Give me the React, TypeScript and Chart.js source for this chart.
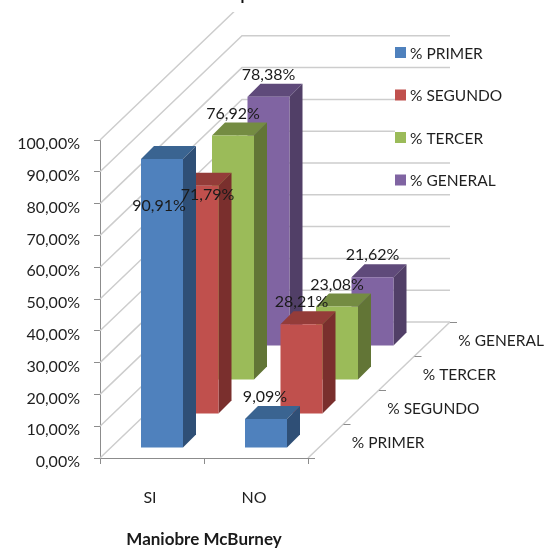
import React, { useEffect, useRef } from "react";
import { Chart, registerables } from "chart.js";

Chart.register(...registerables);

const categories = ["SI", "NO"];
const seriesNames = ["% PRIMER", "% SEGUNDO", "% TERCER", "% GENERAL"];
const primerValues = [90.91, 9.09];
const segundoValues = [71.79, 28.21];
const tercerValues = [76.92, 23.08];
const generalValues = [78.38, 21.62];
const axisTitle = "Maniobre McBurney";
const clippedTitle = "p";

const frontColors = ["#4F81BD", "#C0504D", "#9BBB59", "#8064A2"];
const topColors = ["#3A6491", "#943C39", "#748C42", "#5F4A7A"];
const sideColors = ["#2F4F76", "#7A2F2D", "#627536", "#513F67"];

const FONT = "Lato, 'Open Sans', sans-serif";
const TEXT = "#1f1f1f";
const WALL = "#cdcdcd";
const AXIS = "#8c8c8c";

// Oblique projection of the depth axis
const SLOT_DX = 35.5;
const SLOT_DY = 34;
const BAR_INSET = 10;
const BAR_DEPTH = 13;

// Hand-placed value labels in the first category: [series][category] -> dx, dy from the default spot
const labelNudge = [
  [[-3, 69], [-1, 0]],
  [[10, 31], [0, 0]],
  [[0, 0], [0, 0]],
  [[0, 0], [0, 0]],
];

const formatPct = (v: number) => v.toFixed(2).replace(".", ",") + "%";

const poly = (ctx: CanvasRenderingContext2D, pts: number[][], fill: string) => {
  ctx.beginPath();
  pts.forEach(([x, y], i) => (i ? ctx.lineTo(x, y) : ctx.moveTo(x, y)));
  ctx.closePath();
  ctx.fillStyle = fill;
  ctx.fill();
};

const barFront = (el: any, i: number) => {
  const dx = BAR_INSET + SLOT_DX * i;
  const dy = BAR_INSET + SLOT_DY * i;
  return {
    l: el.x - el.width / 2 + dx,
    r: el.x + el.width / 2 + dx,
    t: el.y - dy,
    b: el.base - dy,
  };
};

const box3d = {
  id: "box3d",
  beforeDatasetsDraw(chart: any) {
    const { ctx, chartArea: a, scales } = chart;
    const depth = seriesNames.length;
    const wallDx = SLOT_DX * depth;
    const wallDy = SLOT_DY * depth;
    ctx.save();
    ctx.lineWidth = 1.5;
    // walls: a diagonal up the side, then across the back
    ctx.strokeStyle = WALL;
    scales.y.ticks.forEach((t: any) => {
      const y = scales.y.getPixelForValue(t.value);
      ctx.beginPath();
      ctx.moveTo(a.left, y);
      ctx.lineTo(a.left + wallDx, y - wallDy);
      ctx.lineTo(a.right + wallDx, y - wallDy);
      ctx.stroke();
    });
    // chart title band sits over the top of the walls
    ctx.fillStyle = "#fff";
    ctx.fillRect(0, 0, chart.width, 12);
    ctx.fillStyle = "#111";
    ctx.font = "bold 16px " + FONT;
    ctx.textAlign = "center";
    ctx.textBaseline = "alphabetic";
    ctx.fillText(clippedTitle, a.left + wallDx + 3, 0);
    // depth axis on the floor edge
    ctx.strokeStyle = WALL;
    ctx.beginPath();
    ctx.moveTo(a.right, a.bottom);
    ctx.lineTo(a.right + wallDx, a.bottom - wallDy);
    ctx.stroke();
    ctx.lineWidth = 1;
    ctx.strokeStyle = AXIS;
    for (let i = 0; i <= depth; i++) {
      const x = a.right + SLOT_DX * i;
      const y = a.bottom - SLOT_DY * i;
      ctx.beginPath();
      ctx.moveTo(x, y + 0.5);
      ctx.lineTo(x + 7, y + 0.5);
      ctx.stroke();
    }
    ctx.fillStyle = TEXT;
    ctx.font = "15.5px " + FONT;
    ctx.textAlign = "left";
    ctx.textBaseline = "middle";
    seriesNames.forEach((name, i) => {
      const x = a.right + SLOT_DX * (i + 0.5) + 26;
      const y = a.bottom - SLOT_DY * (i + 0.5) + 2;
      ctx.fillText(name, x, y);
    });
    // legend, each entry on its own white strip
    const legendX = 395;
    const legendY = [52.5, 95, 137.5, 180];
    seriesNames.forEach((name, i) => {
      ctx.fillStyle = "#fff";
      ctx.fillRect(legendX, legendY[i] - 9, 105, 18);
      ctx.fillStyle = frontColors[i];
      ctx.fillRect(legendX, legendY[i] - 5.5, 11, 11);
      ctx.fillStyle = TEXT;
      ctx.fillText(name, legendX + 15, legendY[i] + 1);
    });
    ctx.restore();
  },
  beforeDatasetDraw(chart: any, args: any) {
    const { ctx } = chart;
    const i = args.index;
    args.meta.data.forEach((el: any) => {
      const { l, r, t, b } = barFront(el, i);
      poly(ctx, [[l, t], [l + BAR_DEPTH, t - BAR_DEPTH], [r + BAR_DEPTH, t - BAR_DEPTH], [r, t]], topColors[i]);
      poly(ctx, [[r, t], [r + BAR_DEPTH, t - BAR_DEPTH], [r + BAR_DEPTH, b - BAR_DEPTH], [r, b]], sideColors[i]);
      poly(ctx, [[l, t], [r, t], [r, b], [l, b]], frontColors[i]);
    });
    return false;
  },
  afterDatasetsDraw(chart: any) {
    const { ctx } = chart;
    ctx.save();
    ctx.fillStyle = "#1a1a1a";
    ctx.font = "16px " + FONT;
    ctx.textAlign = "center";
    ctx.textBaseline = "middle";
    chart.data.datasets.forEach((ds: any, i: number) => {
      chart.getDatasetMeta(i).data.forEach((el: any, j: number) => {
        const { l, r, t } = barFront(el, i);
        const [nx, ny] = labelNudge[i][j];
        ctx.fillText(formatPct(ds.data[j]), (l + r) / 2 + nx, t - 22 + ny);
      });
    });
    ctx.restore();
  },
};

export default function App() {
  const ref = useRef<HTMLCanvasElement>(null);
  useEffect(() => {
    const chart = new Chart(ref.current!, {
      type: "bar",
      data: {
        labels: categories,
        datasets: [primerValues, segundoValues, tercerValues, generalValues].map((data, i) => ({
          label: seriesNames[i],
          data,
          backgroundColor: frontColors[i],
          barThickness: 42,
          grouped: false,
        })),
      },
      options: {
        animation: false,
        responsive: false,
        layout: { padding: { top: 140, right: 243, left: 0, bottom: 0 } },
        plugins: { legend: { display: false }, tooltip: { enabled: false } },
        scales: {
          x: {
            afterFit: (s: any) => { s.height = 96; },
            grid: { drawOnChartArea: false, offset: true, tickLength: 6, color: AXIS },
            border: { color: AXIS },
            ticks: { color: TEXT, font: { family: FONT, size: 16 }, padding: 24, labelOffset: -2, maxRotation: 0 },
            title: { display: true, text: axisTitle, color: "#1a1a1a", font: { family: FONT, size: 17, weight: "bold" } },
          },
          y: {
            min: 0,
            max: 100,
            afterFit: (s: any) => { s.width = 100; },
            grid: { drawOnChartArea: false, tickLength: 6, color: AXIS },
            border: { color: AXIS },
            ticks: {
              stepSize: 10,
              color: TEXT,
              font: { family: FONT, size: 16 },
              padding: 14,
              labelOffset: 4,
              callback: (v: any) => formatPct(Number(v)),
            },
          },
        },
      } as any,
      plugins: [box3d],
    });
    return () => chart.destroy();
  }, []);
  return (
    <div style={{ position: "absolute", left: 0, top: 0, width: 551, height: 554, background: "#fff" }}>
      <canvas ref={ref} width={551} height={554} style={{ display: "block" }} />
    </div>
  );
}
